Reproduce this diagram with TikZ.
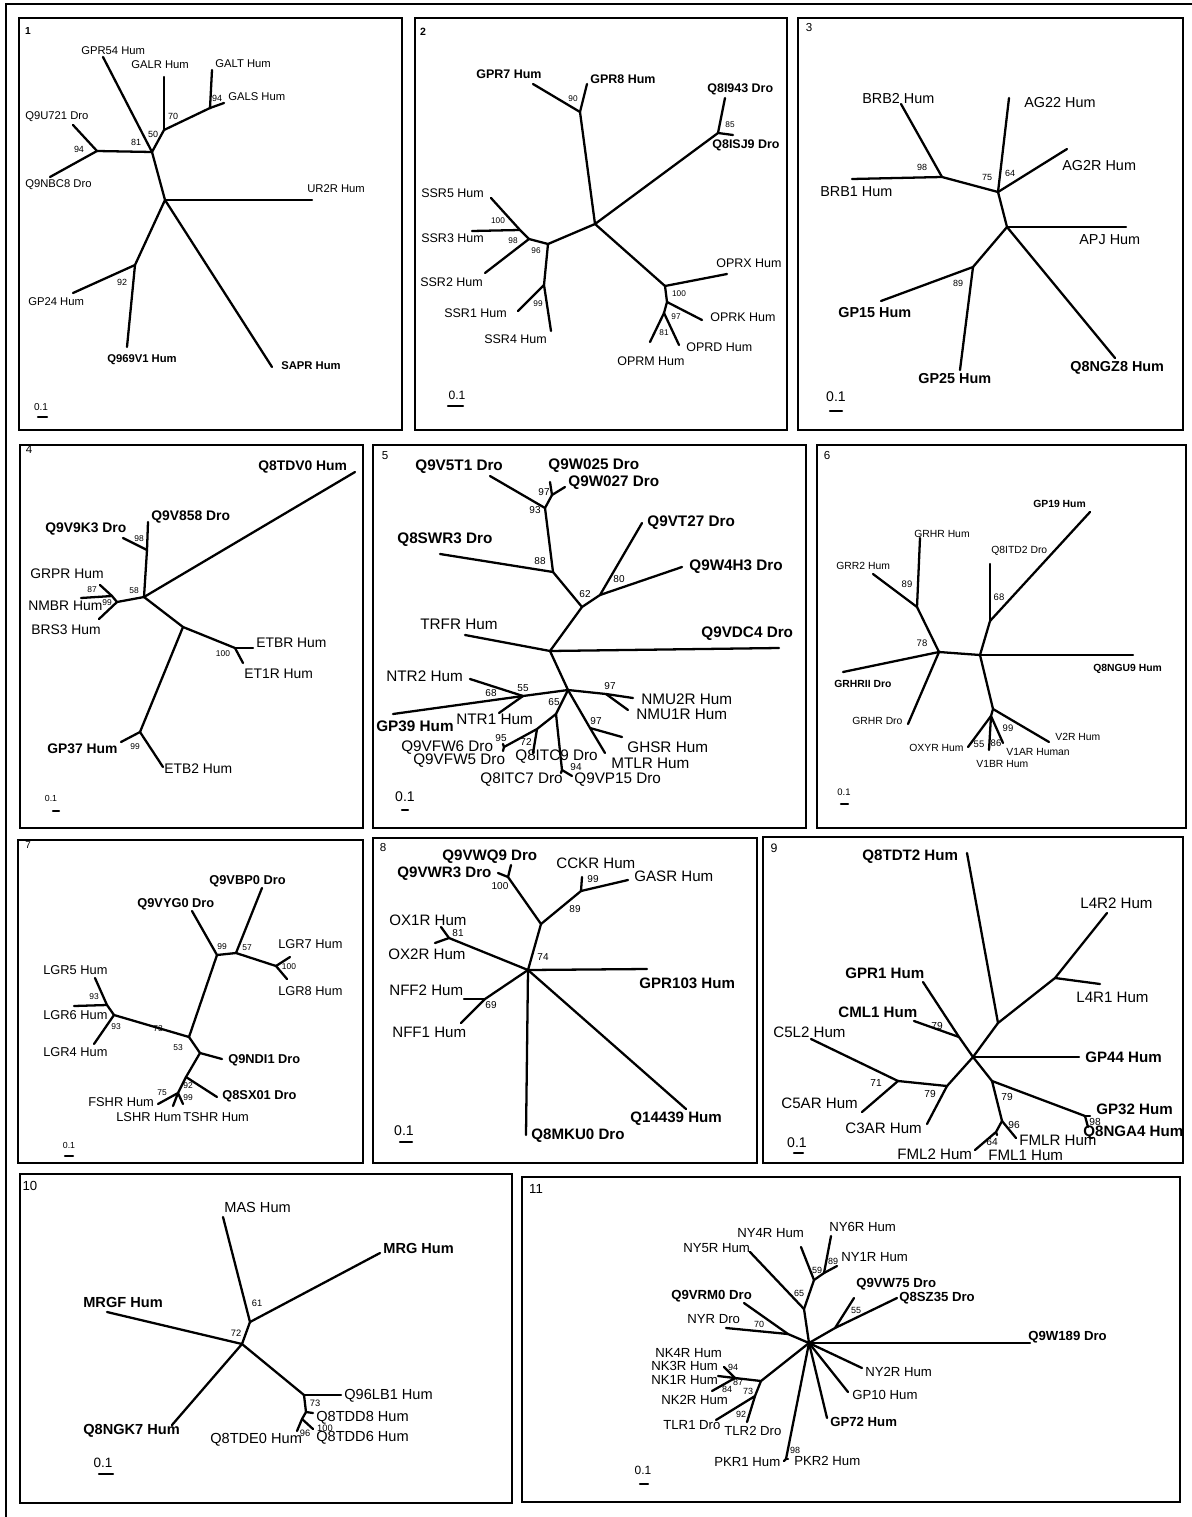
\documentclass[tikz,border=0pt]{standalone}
\usepackage{fontspec}
\setmainfont{Liberation Sans}
\usepackage{tikz}

\tikzset{
  branch/.style={line width=1.3pt, line cap=round, line join=round},
  frame/.style={line width=1.2pt},
  lab/.style={inner sep=0pt, anchor=west, font=\fontsize{\labsz}{\labsz}\selectfont},
  blab/.style={lab, font=\fontsize{\labsz}{\labsz}\selectfont\bfseries},
  boot/.style={inner sep=0pt, font=\fontsize{\bootsz}{\bootsz}\selectfont},
  sclab/.style={inner sep=0pt, font=\fontsize{\scsz}{\scsz}\selectfont},
  pnum/.style={inner sep=0pt, font=\fontsize{\numsz}{\numsz}\selectfont}
}

\begin{document}
\begin{tikzpicture}[x=0.02cm, y=-0.02cm]
\useasboundingbox (0,0) rectangle (1192,1517);
% outer frame
\draw[line width=1.6pt] (1192,4) -- (6,4) -- (6,1517);

% ---------- panel 1
\begin{scope}
\def\labsz{6.4}\def\bootsz{5.1}\def\scsz{5.7}\def\numsz{5.8}
\draw[frame] (19,18) rectangle (402,430);
\node[pnum, font=\fontsize{\numsz}{\numsz}\selectfont\bfseries] (p1-n) at (28,31) {1};
% Nodes
\foreach \n/\x/\y in {c/165/200, f/135/265, a/152/152, b/164/130, g/210/108, d/97/151,
  GPR54/103/57, GALR/164/77, GALT/212/70, GALS/224/103, Q9U721/73/125, Q9NBC8/50/177,
  UR2R/312/200, SAPR/272/367, GP24/73/293, Q969V1/127/347}
  \coordinate (p1-\n) at (\x,\y);
% Branches
\foreach \u/\v in {c/a, a/GPR54, a/b, b/GALR, b/g, g/GALT, g/GALS, a/d, d/Q9U721, d/Q9NBC8,
  c/UR2R, c/SAPR, c/f, f/GP24, f/Q969V1}
  \draw[branch] (p1-\u) -- (p1-\v);
% Labels
\foreach \n/\x/\y/\t in {GPR54/81/51/GPR54 Hum, GALR/131/65/GALR Hum, GALT/215/64/GALT Hum,
  GALS/228/97/GALS Hum, Q9U721/25/117/Q9U721 Dro, Q9NBC8/25/185/Q9NBC8 Dro,
  UR2R/307/189/UR2R Hum, GP24/28/302/GP24 Hum}
  \node[lab] (p1-l\n) at (\x,\y) {\t};
\foreach \n/\x/\y/\t in {Q969V1/107/360/Q969V1 Hum, SAPR/281/366/SAPR Hum}
  \node[blab] (p1-l\n) at (\x,\y) {\t};
\foreach \x/\y/\t [count=\k] in {217/98/94, 173/116/70, 153/134/50, 136/142/81, 79/149/94, 122/282/92}
  \node[boot] (p1-b\k) at (\x,\y) {\t};
% Scale
\coordinate (p1-s0) at (38,417); \coordinate (p1-s1) at (47,417);
\draw[branch] (p1-s0) -- (p1-s1);
\node[sclab] (p1-sl) at (41,407) {0.1};
\end{scope}

% ---------- panel 2
\begin{scope}
\def\labsz{7.1}\def\bootsz{4.7}\def\scsz{6.9}\def\numsz{6}
\draw[frame] (415,18) rectangle (787,430);
\node[pnum, font=\fontsize{\numsz}{\numsz}\selectfont\bfseries] (p2-n) at (423,32) {2};
% Nodes
\foreach \n/\x/\y in {c/595/224, g/580/112, q/718/133, o1/665/286, o2/667/302, o3/664/313,
  s1/548/244, s2/544/285, s3/529/239, s4/520/230,
  GPR7/533/84, GPR8/587/84, Q8I943/725/98, Q8ISJ9/733/135, OPRX/727/274, OPRK/702/320,
  OPRM/650/342, OPRD/679/345, SSR4/551/331, SSR1/518/311, SSR2/485/273, SSR5/491/198, SSR3/472/231}
  \coordinate (p2-\n) at (\x,\y);
% Branches
\foreach \u/\v in {c/g, g/GPR7, g/GPR8, c/q, q/Q8I943, q/Q8ISJ9, c/o1, o1/OPRX, o1/o2, o2/OPRK,
  o2/o3, o3/OPRM, o3/OPRD, c/s1, s1/s2, s2/SSR1, s2/SSR4, s1/s3, s3/SSR2, s3/s4, s4/SSR5, s4/SSR3}
  \draw[branch] (p2-\u) -- (p2-\v);
% Labels
\foreach \n/\x/\y/\t in {SSR5/421/193/SSR5 Hum, SSR3/421/238/SSR3 Hum, SSR2/420/282/SSR2 Hum,
  SSR1/444/313/SSR1 Hum, SSR4/484/339/SSR4 Hum, OPRX/716/263/OPRX Hum, OPRK/710/317/OPRK Hum,
  OPRD/686/347/OPRD Hum, OPRM/617/361/OPRM Hum}
  \node[lab] (p2-l\n) at (\x,\y) {\t};
\foreach \n/\x/\y/\t in {GPR7/476/74/GPR7 Hum, GPR8/590/79/GPR8 Hum, Q8I943/707/89/Q8I943 Dro,
  Q8ISJ9/712/145/Q8ISJ9 Dro}
  \node[blab] (p2-l\n) at (\x,\y) {\t};
\foreach \x/\y/\t [count=\k] in {573/99/90, 730/125/85, 498/221/100, 513/241/98, 536/251/96,
  538/304/99, 679/294/100, 676/317/97, 664/333/81}
  \node[boot] (p2-b\k) at (\x,\y) {\t};
% Scale
\coordinate (p2-s0) at (448,406); \coordinate (p2-s1) at (463,406);
\draw[branch] (p2-s0) -- (p2-s1);
\node[sclab] (p2-sl) at (457,395) {0.1};
\end{scope}

% ---------- panel 3
\begin{scope}
\def\labsz{8.2}\def\bootsz{5.1}\def\scsz{8}\def\numsz{6.6}
\draw[frame] (798,18) rectangle (1183,430);
\node[pnum] (p3-n) at (809,28) {3};
% Nodes
\foreach \n/\x/\y in {n1/942/177, n2/998/192, n4/1007/227, n5/973/267,
  BRB2/901/104, BRB1/852/179, AG22/1009/98, AG2R/1067/149, APJ/1126/227, Q8NGZ8/1115/358,
  GP15/881/301, GP25/960/370}
  \coordinate (p3-\n) at (\x,\y);
% Branches
\foreach \u/\v in {n4/n2, n2/n1, n1/BRB2, n1/BRB1, n2/AG22, n2/AG2R, n4/APJ, n4/Q8NGZ8,
  n4/n5, n5/GP15, n5/GP25}
  \draw[branch] (p3-\u) -- (p3-\v);
% Labels
\foreach \n/\x/\y/\t in {BRB2/862/99/BRB2 Hum, BRB1/820/192/BRB1 Hum, AG22/1024/103/AG22 Hum,
  AG2R/1062/166/AG2R Hum, APJ/1079/240/APJ Hum}
  \node[lab] (p3-l\n) at (\x,\y) {\t};
\foreach \n/\x/\y/\t in {GP15/838/313/GP15 Hum, GP25/918/379/GP25 Hum, Q8NGZ8/1070/368/Q8NGZ8 Hum}
  \node[blab] (p3-l\n) at (\x,\y) {\t};
\foreach \x/\y/\t [count=\k] in {922/167/98, 987/177/75, 1010/173/64, 958/283/89}
  \node[boot] (p3-b\k) at (\x,\y) {\t};
% Scale
\coordinate (p3-s0) at (830,411); \coordinate (p3-s1) at (842,411);
\draw[branch] (p3-s0) -- (p3-s1);
\node[sclab] (p3-sl) at (836,397) {0.1};
\end{scope}

% ---------- panel 4
\begin{scope}
\def\labsz{7.9}\def\bootsz{4.8}\def\scsz{5}\def\numsz{6.6}
\draw[frame] (20,445) rectangle (363,828);
\node[pnum] (p4-n) at (29,450) {4};
% Nodes
\foreach \n/\x/\y in {c1/144/597, c2/147/550, c3/117/602, c4/112/596, c5/183/627, c6/235/648, c7/140/732,
  Q9V858/148/522, Q9V9K3/123/538, GRPR/100/585, NMBR/81/598, BRS3/99/619, Q8TDV0/355/472,
  ETBR/253/648, ET1R/243/663, GP37/121/742, ETB2/163/767}
  \coordinate (p4-\n) at (\x,\y);
% Branches
\foreach \u/\v in {c1/c2, c2/Q9V858, c2/Q9V9K3, c1/c3, c3/c4, c4/GRPR, c4/NMBR, c3/BRS3,
  c1/Q8TDV0, c1/c5, c5/c6, c6/ETBR, c6/ET1R, c5/c7, c7/GP37, c7/ETB2}
  \draw[branch] (p4-\u) -- (p4-\v);
% Labels
\foreach \n/\x/\y/\t in {GRPR/30/574/GRPR Hum, NMBR/28/606/NMBR Hum, BRS3/31/630/BRS3 Hum,
  ETBR/256/643/ETBR Hum, ET1R/244/674/ET1R Hum, ETB2/164/769/ETB2 Hum}
  \node[lab] (p4-l\n) at (\x,\y) {\t};
\foreach \n/\x/\y/\t in {Q8TDV0/258/467/Q8TDV0 Hum, Q9V858/151/517/Q9V858 Dro,
  Q9V9K3/45/529/Q9V9K3 Dro, GP37/47/749/GP37 Hum}
  \node[blab] (p4-l\n) at (\x,\y) {\t};
\foreach \x/\y/\t [count=\k] in {139/539/98, 134/591/58, 92/590/87, 107/603/99, 223/654/100, 135/747/99}
  \node[boot] (p4-b\k) at (\x,\y) {\t};
% Scale
\coordinate (p4-s0) at (53,811); \coordinate (p4-s1) at (59,811);
\draw[branch] (p4-s0) -- (p4-s1);
\node[sclab] (p4-sl) at (51,798) {0.1};
\end{scope}

% ---------- panel 5
\begin{scope}
\def\labsz{8.7}\def\bootsz{5.7}\def\scsz{8}\def\numsz{6.6}
\draw[frame] (373,445) rectangle (806,828);
\node[pnum] (p5-n) at (385,456) {5};
% Nodes
\foreach \n/\x/\y in {c/550/651, m1/582/607, m2/553/572, m3/545/508, m4/552/495, m5/600/595,
  d1/568/690, d2/523/696, e1/606/694, f1/590/728, g1/556/714, g2/537/729, g3/504/747, h1/562/770,
  Q9V5T1/490/476, Q9W025/550/482, Q9W027/565/487, Q8SWR3/440/554, Q9VT27/642/523, Q9W4H3/682/567,
  TRFR/465/635, Q9VDC4/779/648, NTR2/470/679, GP39/393/714, NTR1/499/713, NMU2R/633/698,
  NMU1R/628/710, GHSR/622/737, MTLR/605/753, Q9VFW6/503/744, Q9VFW5/503/751, Q8ITC9/533/753,
  Q8ITC7/561/773, Q9VP15/572/776}
  \coordinate (p5-\n) at (\x,\y);
% Branches
\foreach \u/\v in {c/m1, m1/m2, m2/m3, m3/Q9V5T1, m3/m4, m4/Q9W025, m4/Q9W027, m2/Q8SWR3,
  m1/m5, m5/Q9VT27, m5/Q9W4H3, c/TRFR, c/Q9VDC4, c/d1, d1/d2, d2/NTR2, d2/GP39, d2/NTR1,
  d1/e1, e1/NMU2R, e1/NMU1R, d1/f1, f1/GHSR, f1/MTLR, d1/g1, g1/g2, g2/g3, g3/Q9VFW6,
  g3/Q9VFW5, g2/Q8ITC9, g1/h1, h1/Q8ITC7, h1/Q9VP15}
  \draw[branch] (p5-\u) -- (p5-\v);
% Labels
\foreach \n/\x/\y/\t in {TRFR/420/624/TRFR Hum, NTR2/386/676/NTR2 Hum, NTR1/456/719/NTR1 Hum,
  NMU2R/641/699/NMU2R Hum, NMU1R/636/714/NMU1R Hum, GHSR/627/747/GHSR Hum, MTLR/611/763/MTLR Hum,
  Q9VFW6/401/748/Q9VFW6 Dro, Q9VFW5/413/761/Q9VFW5 Dro, Q8ITC9/515/757/Q8ITC9 Dro,
  Q8ITC7/480/780/Q8ITC7 Dro, Q9VP15/574/780/Q9VP15 Dro}
  \node[lab] (p5-l\n) at (\x,\y) {\t};
\foreach \n/\x/\y/\t in {Q9V5T1/415/467/Q9V5T1 Dro, Q9W025/548/466/Q9W025 Dro,
  Q9W027/568/483/Q9W027 Dro, Q8SWR3/397/540/Q8SWR3 Dro, Q9VT27/647/523/Q9VT27 Dro,
  Q9W4H3/689/567/Q9W4H3 Dro, Q9VDC4/701/634/Q9VDC4 Dro, GP39/376/726/GP39 Hum}
  \node[blab] (p5-l\n) at (\x,\y) {\t};
\foreach \x/\y/\t [count=\k] in {544/492/97, 535/510/93, 540/561/88, 585/594/62, 619/579/80,
  523/688/55, 491/693/68, 554/702/65, 610/686/97, 596/721/97, 501/738/95, 526/742/72, 576/767/94}
  \node[boot] (p5-b\k) at (\x,\y) {\t};
% Scale
\coordinate (p5-s0) at (402,810); \coordinate (p5-s1) at (408,810);
\draw[branch] (p5-s0) -- (p5-s1);
\node[sclab] (p5-sl) at (405,797) {0.1};
\end{scope}

% ---------- panel 6
\begin{scope}
\def\labsz{5.9}\def\bootsz{5.4}\def\scsz{5.4}\def\numsz{6.6}
\draw[frame] (817,445) rectangle (1186,828);
\node[pnum] (p6-n) at (827,456) {6};
% Nodes
\foreach \n/\x/\y in {c1/939/652, k1/917/607, c2/980/655, j1/990/621, v1/993/709, v2/991/716,
  GRHRH/920/538, GRR2/873/574, GRHRII/843/672, GRHRD/908/724, Q8NGU9/1133/655, Q8ITD2/990/564,
  GP19/1090/512, V2R/1049/742, OXYR/968/747, V1BR/989/750, V1AR/1003/743}
  \coordinate (p6-\n) at (\x,\y);
% Branches
\foreach \u/\v in {c1/k1, k1/GRHRH, k1/GRR2, c1/GRHRII, c1/GRHRD, c1/c2, c2/Q8NGU9, c2/j1,
  j1/Q8ITD2, j1/GP19, c2/v1, v1/V2R, v1/v2, v2/OXYR, v2/V1BR, v2/V1AR}
  \draw[branch] (p6-\u) -- (p6-\v);
% Labels
\foreach \n/\x/\y/\t in {GRHRH/914/534/GRHR Hum, Q8ITD2/991/551/Q8ITD2 Dro, GRR2/836/566/GRR2 Hum,
  GRHRD/852/721/GRHR Dro, V2R/1055/737/V2R Hum, OXYR/909/748/OXYR Hum,
  V1AR/1006/752/V1AR Human, V1BR/976/764/V1BR Hum}
  \node[lab] (p6-l\n) at (\x,\y) {\t};
\foreach \n/\x/\y/\t in {GP19/1033/504/GP19 Hum, GRHRII/834/684/GRHRII Dro, Q8NGU9/1093/669/Q8NGU9 Hum}
  \node[blab] (p6-l\n) at (\x,\y) {\t};
\foreach \x/\y/\t [count=\k] in {907/584/89, 999/597/68, 922/643/78, 1008/728/99, 979/744/55, 996/743/86}
  \node[boot] (p6-b\k) at (\x,\y) {\t};
% Scale
\coordinate (p6-s0) at (841,804); \coordinate (p6-s1) at (848,804);
\draw[branch] (p6-s0) -- (p6-s1);
\node[sclab] (p6-sl) at (844,792) {0.1};
\end{scope}

% ---------- panel 7
\begin{scope}
\def\labsz{7.3}\def\bootsz{4.8}\def\scsz{5}\def\numsz{5.6}
\draw[frame] (18,840) rectangle (363,1163);
\node[pnum] (p7-n) at (28,845) {7};
% Nodes
\foreach \n/\x/\y in {c1/189/1037, p1/217/955, p2/236/953, p3/276/966, q1/114/1015, q2/107/1005,
  r1/200/1053, r2/186/1077, r3/178/1093,
  Q9VYG0/192/911, Q9VBP0/262/888, LGR7/290/957, LGR8/287/979, LGR5/95/978, LGR6/74/1006,
  LGR4/94/1044, Q9NDI1/222/1059, Q8SX01/217/1097, FSHR/158/1104, LSHR/173/1106, TSHR/183/1104}
  \coordinate (p7-\n) at (\x,\y);
% Branches
\foreach \u/\v in {c1/p1, p1/Q9VYG0, p1/p2, p2/Q9VBP0, p2/p3, p3/LGR7, p3/LGR8, c1/q1, q1/q2,
  q2/LGR5, q2/LGR6, q1/LGR4, c1/r1, r1/Q9NDI1, r1/r2, r2/Q8SX01, r2/r3, r3/FSHR, r3/LSHR, r3/TSHR}
  \draw[branch] (p7-\u) -- (p7-\v);
% Labels
\foreach \n/\x/\y/\t in {LGR7/278/944/LGR7 Hum, LGR8/278/991/LGR8 Hum, LGR5/43/970/LGR5 Hum,
  LGR6/43/1015/LGR6 Hum, LGR4/43/1052/LGR4 Hum, FSHR/88/1102/FSHR Hum, LSHR/116/1117/LSHR Hum,
  TSHR/183/1117/TSHR Hum}
  \node[lab] (p7-l\n) at (\x,\y) {\t};
\foreach \n/\x/\y/\t in {Q9VBP0/209/881/Q9VBP0 Dro, Q9VYG0/137/904/Q9VYG0 Dro,
  Q9NDI1/228/1060/Q9NDI1 Dro, Q8SX01/222/1096/Q8SX01 Dro}
  \node[blab] (p7-l\n) at (\x,\y) {\t};
\foreach \x/\y/\t [count=\k] in {222/947/99, 247/948/57, 289/967/100, 94/997/93, 116/1027/93,
  158/1029/73, 178/1048/53, 188/1086/92, 162/1093/75, 188/1098/99}
  \node[boot] (p7-b\k) at (\x,\y) {\t};
% Scale
\coordinate (p7-s0) at (65,1156); \coordinate (p7-s1) at (73,1156);
\draw[branch] (p7-s0) -- (p7-s1);
\node[sclab] (p7-sl) at (69,1145) {0.1};
\end{scope}

% ---------- panel 8
\begin{scope}
\def\labsz{8.6}\def\bootsz{5.7}\def\scsz{8}\def\numsz{6.6}
\draw[frame] (373,838) rectangle (757,1163);
\node[pnum] (p8-n) at (383,847) {8};
% Nodes
\foreach \n/\x/\y in {c/528/970, t1/541/924, t2/508/877, t3/581/891, u1/449/938, w1/485/999,
  Q9VWQ9/511/865, Q9VWR3/498/873, CCKR/582/877, GASR/628/880, OX1R/441/927, OX2R/435/943,
  NFF2/464/999, NFF1/461/1023, GPR103/647/969, Q14439/686/1109, Q8MKU0/526/1135}
  \coordinate (p8-\n) at (\x,\y);
% Branches
\foreach \u/\v in {c/t1, t1/t2, t2/Q9VWQ9, t2/Q9VWR3, t1/t3, t3/CCKR, t3/GASR, c/u1, u1/OX1R,
  u1/OX2R, c/w1, w1/NFF2, w1/NFF1, c/GPR103, c/Q14439, c/Q8MKU0}
  \draw[branch] (p8-\u) -- (p8-\v);
% Labels
\foreach \n/\x/\y/\t in {CCKR/556/863/CCKR Hum, GASR/634/876/GASR Hum, OX1R/389/920/OX1R Hum,
  OX2R/388/954/OX2R Hum, NFF2/389/990/NFF2 Hum, NFF1/392/1032/NFF1 Hum}
  \node[lab] (p8-l\n) at (\x,\y) {\t};
\foreach \n/\x/\y/\t in {Q9VWQ9/442/857/Q9VWQ9 Dro, Q9VWR3/397/874/Q9VWR3 Dro,
  GPR103/639/983/GPR103 Hum, Q14439/630/1119/Q14439 Hum, Q8MKU0/531/1136/Q8MKU0 Dro}
  \node[blab] (p8-l\n) at (\x,\y) {\t};
\foreach \x/\y/\t [count=\k] in {500/886/100, 593/879/99, 575/909/89, 458/933/81, 543/957/74, 491/1005/69}
  \node[boot] (p8-b\k) at (\x,\y) {\t};
% Scale
\coordinate (p8-s0) at (400,1142); \coordinate (p8-s1) at (412,1142);
\draw[branch] (p8-s0) -- (p8-s1);
\node[sclab] (p8-sl) at (404,1131) {0.1};
\end{scope}

% ---------- panel 9
\begin{scope}
\def\labsz{8.6}\def\bootsz{5.8}\def\scsz{8}\def\numsz{7}
\draw[frame] (763,837) rectangle (1183,1163);
\node[pnum] (p9-n) at (774,848) {9};
% Nodes
\foreach \n/\x/\y in {c/973/1057, a1/998/1023, a2/1055/978, b1/959/1037, d1/992/1081, d2/1085/1116,
  d3/1002/1121, d4/996/1132, e1/947/1086, e2/898/1081,
  Q8TDT2/967/853, L4R2/1107/913, L4R1/1100/984, GPR1/923/982, CML1/914/1021, GP44/1079/1057,
  GP32/1090/1116, Q8NGA4/1088/1127, FMLR/1016/1138, FML2/975/1150, FML1/997/1135,
  C3AR/927/1124, C5L2/811/1039, C5AR/862/1112}
  \coordinate (p9-\n) at (\x,\y);
% Branches
\foreach \u/\v in {c/a1, a1/Q8TDT2, a1/a2, a2/L4R2, a2/L4R1, c/b1, b1/GPR1, b1/CML1, c/GP44,
  c/d1, d1/d2, d2/GP32, d2/Q8NGA4, d1/d3, d3/FMLR, d3/d4, d4/FML2, d4/FML1, c/e1, e1/C3AR,
  e1/e2, e2/C5L2, e2/C5AR}
  \draw[branch] (p9-\u) -- (p9-\v);
% Labels
\foreach \n/\x/\y/\t in {L4R2/1080/903/L4R2 Hum, L4R1/1076/997/L4R1 Hum, C5L2/773/1032/C5L2 Hum,
  C5AR/781/1103/C5AR Hum, C3AR/845/1128/C3AR Hum, FMLR/1019/1140/FMLR Hum,
  FML1/988/1155/FML1 Hum, FML2/897/1154/FML2 Hum}
  \node[lab] (p9-l\n) at (\x,\y) {\t};
\foreach \n/\x/\y/\t in {Q8TDT2/862/857/Q8TDT2 Hum, GPR1/845/973/GPR1 Hum, CML1/838/1012/CML1 Hum,
  GP44/1085/1057/GP44 Hum, GP32/1096/1109/GP32 Hum, Q8NGA4/1083/1133/Q8NGA4 Hum}
  \node[blab] (p9-l\n) at (\x,\y) {\t};
\foreach \x/\y/\t [count=\k] in {937/1026/79, 876/1083/71, 930/1094/79, 1007/1097/79,
  1014/1125/96, 992/1142/64, 1095/1122/98}
  \node[boot] (p9-b\k) at (\x,\y) {\t};
% Scale
\coordinate (p9-s0) at (794,1153); \coordinate (p9-s1) at (803,1153);
\draw[branch] (p9-s0) -- (p9-s1);
\node[sclab] (p9-sl) at (797,1143) {0.1};
\end{scope}

% ---------- panel 10
\begin{scope}
\def\labsz{8.3}\def\bootsz{5.3}\def\scsz{7.7}\def\numsz{7.5}
\draw[frame] (20,1174) rectangle (512,1503);
\node[pnum] (p10-n) at (30,1186) {10};
% Nodes
\foreach \n/\x/\y in {c/242/1344, n1/250/1322, m1/304/1395, m2/306/1412, m3/302/1419,
  MAS/223/1217, MRG/380/1253, MRGF/107/1312, Q8NGK7/172/1425, Q96LB1/341/1395,
  Q8TDD8/313/1413, Q8TDE0/297/1431, Q8TDD6/313/1429}
  \coordinate (p10-\n) at (\x,\y);
% Branches
\foreach \u/\v in {c/n1, n1/MAS, n1/MRG, c/MRGF, c/Q8NGK7, c/m1, m1/Q96LB1, m1/m2, m2/Q8TDD8,
  m2/m3, m3/Q8TDE0, m3/Q8TDD6}
  \draw[branch] (p10-\u) -- (p10-\v);
% Labels
\foreach \n/\x/\y/\t in {MAS/224/1207/MAS Hum, Q96LB1/344/1396/Q96LB1 Hum, Q8TDD8/316/1418/Q8TDD8 Hum,
  Q8TDD6/316/1438/Q8TDD6 Hum, Q8TDE0/210/1440/Q8TDE0 Hum}
  \node[lab] (p10-l\n) at (\x,\y) {\t};
\foreach \n/\x/\y/\t in {MRG/383/1248/MRG Hum, MRGF/83/1302/MRGF Hum, Q8NGK7/83/1431/Q8NGK7 Hum}
  \node[blab] (p10-l\n) at (\x,\y) {\t};
\foreach \x/\y/\t [count=\k] in {257/1303/61, 236/1333/72, 315/1403/73, 325/1428/100, 305/1433/96}
  \node[boot] (p10-b\k) at (\x,\y) {\t};
% Scale
\coordinate (p10-s0) at (99,1474); \coordinate (p10-s1) at (113,1474);
\draw[branch] (p10-s0) -- (p10-s1);
\node[sclab] (p10-sl) at (103,1463) {0.1};
\end{scope}

% ---------- panel 11
\begin{scope}
\def\labsz{7.5}\def\bootsz{5.1}\def\scsz{6.8}\def\numsz{7.5}
\draw[frame] (522,1177) rectangle (1180,1502);
\node[pnum] (p11-n) at (536,1189) {11};
% Nodes
\foreach \n/\x/\y in {c/809/1343, y1/804/1309, y2/814/1280, y3/824/1273, z1/835/1328, x1/788/1334,
  w1/761/1381, w2/755/1396, w3/735/1378, pk/786/1459,
  Q9W189/1030/1343, NY5R/750/1252, NY4R/801/1247, NY6R/831/1236, NY1R/837/1266,
  Q9VW75/854/1298, Q8SZ35/897/1298, Q9VRM0/744/1303, NYR/726/1328, NY2R/862/1368,
  GP10/848/1392, GP72/827/1418, PKR1/784/1461, PKR2/788/1459, TLR1/716/1420, TLR2/747/1422,
  NK3R/724/1367, NK1R/718/1376, NK2R/712/1391}
  \coordinate (p11-\n) at (\x,\y);
% Branches
\foreach \u/\v in {c/Q9W189, c/y1, y1/NY5R, y1/y2, y2/NY4R, y2/y3, y3/NY6R, y3/NY1R, c/z1,
  z1/Q9VW75, z1/Q8SZ35, c/x1, x1/Q9VRM0, x1/NYR, c/NY2R, c/GP10, c/GP72, c/pk, pk/PKR1,
  pk/PKR2, c/w1, w1/w2, w2/TLR1, w2/TLR2, w1/w3, w3/NK3R, w3/NK1R, w3/NK2R}
  \draw[branch] (p11-\u) -- (p11-\v);
% Labels
\foreach \n/\x/\y/\t in {NY4R/737/1233/NY4R Hum, NY6R/829/1227/NY6R Hum, NY5R/683/1248/NY5R Hum,
  NY1R/841/1257/NY1R Hum, NYR/687/1319/NYR Dro, NK4R/655/1353/NK4R Hum, NK3R/651/1366/NK3R Hum,
  NK1R/651/1380/NK1R Hum, NK2R/661/1400/NK2R Hum, NY2R/865/1372/NY2R Hum, GP10/852/1395/GP10 Hum,
  TLR1/663/1425/TLR1 Dro, TLR2/724/1431/TLR2 Dro, PKR1/714/1462/PKR1 Hum, PKR2/794/1461/PKR2 Hum}
  \node[lab] (p11-l\n) at (\x,\y) {\t};
\foreach \n/\x/\y/\t in {Q9VW75/856/1284/Q9VW75 Dro, Q8SZ35/899/1298/Q8SZ35 Dro,
  Q9VRM0/671/1296/Q9VRM0 Dro, Q9W189/1028/1337/Q9W189 Dro, GP72/830/1422/GP72 Hum}
  \node[blab] (p11-l\n) at (\x,\y) {\t};
\foreach \x/\y/\t [count=\k] in {817/1270/59, 833/1261/89, 799/1293/65, 856/1310/55, 759/1324/70,
  733/1367/94, 738/1382/87, 727/1389/84, 748/1391/73, 741/1414/92, 795/1450/98}
  \node[boot] (p11-b\k) at (\x,\y) {\t};
% Scale
\coordinate (p11-s0) at (640,1484); \coordinate (p11-s1) at (648,1484);
\draw[branch] (p11-s0) -- (p11-s1);
\node[sclab] (p11-sl) at (643,1470) {0.1};
\end{scope}
\end{tikzpicture}
\end{document}
